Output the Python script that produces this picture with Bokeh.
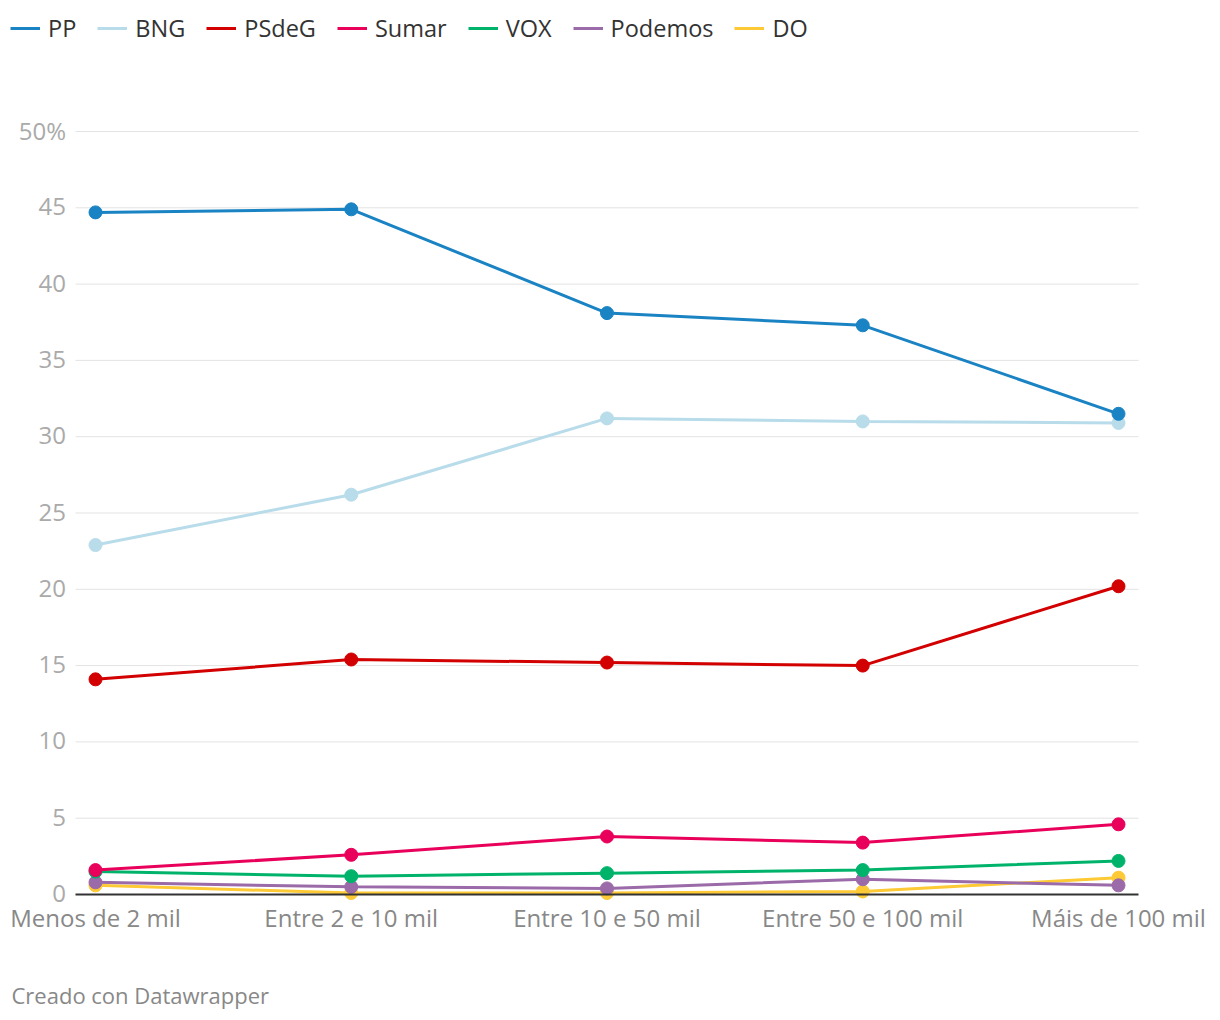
from bokeh.plotting import figure
from bokeh.models import Legend, LegendItem, Label
from bokeh.embed import file_html
from bokeh.resources import INLINE

categories = ["Menos de 2 mil", "Entre 2 e 10 mil", "Entre 10 e 50 mil", "Entre 50 e 100 mil", "Máis de 100 mil"]
parties = ["PP", "BNG", "PSdeG", "Sumar", "VOX", "Podemos", "DO"]
colors = ["#1a83c3", "#b8dcea", "#d20000", "#e8005a", "#00b36b", "#9b6aa8", "#fdc934"]

pp = [44.7, 44.9, 38.1, 37.3, 31.5]
bng = [22.9, 26.2, 31.2, 31.0, 30.9]
psdeg = [14.1, 15.4, 15.2, 15.0, 20.2]
sumar = [1.6, 2.6, 3.8, 3.4, 4.6]
vox = [1.5, 1.2, 1.4, 1.6, 2.2]
podemos = [0.8, 0.5, 0.4, 1.0, 0.6]
do_ = [0.6, 0.1, 0.1, 0.2, 1.1]
series = [pp, bng, psdeg, sumar, vox, podemos, do_]

y_ticks = [0, 5, 10, 15, 20, 25, 30, 35, 40, 45, 50]
y_tick_labels = ["0", "5", "10", "15", "20", "25", "30", "35", "40", "45", "50%"]

FONT = "Open Sans"
W, H = 1212, 1012

# pixel layout of the plotting area (canvas coordinates)
PX_X0, PX_STEP = 95.0, 255.75      # first category centre, category spacing
PX_Y0, PX_PER_UNIT = 894.0, 15.26  # y=0 position, pixels per percentage point
GRID_L, GRID_R = 75.0, 1138.0

def xd(px):
    return (px - PX_X0) / PX_STEP

def yd(py):
    return (PX_Y0 - py) / PX_PER_UNIT

xs = list(range(len(categories)))

p = figure(width=W, height=H, output_backend="svg", toolbar_location=None,
           x_range=(xd(0), xd(W)), y_range=(yd(H), yd(0)),
           min_border=0, min_border_left=0, min_border_right=0,
           min_border_top=0, min_border_bottom=0)
p.outline_line_color = None
p.background_fill_color = "white"
p.border_fill_color = "white"
p.xaxis.visible = False
p.yaxis.visible = False
p.xgrid.visible = False
p.ygrid.visible = False

# gridlines
grid_y = y_ticks[1:]
p.segment(x0=[xd(GRID_L)] * len(grid_y), x1=[xd(GRID_R)] * len(grid_y),
          y0=grid_y, y1=grid_y, line_color="#e3e3e3", line_width=1)

# y tick labels
p.text(x=[xd(65.5)] * len(y_ticks), y=y_ticks, text=y_tick_labels,
       text_font={"value": FONT}, text_font_size={"value": "24px"},
       text_color="#aaaaaa", text_align="right", text_baseline="alphabetic", y_offset=-1)

# series (last in legend drawn first)
items = []
for name, col, vals in reversed(list(zip(parties, colors, series))):
    r = p.line(xs, vals, line_color=col, line_width=3)
    p.scatter(xs, vals, size=13, fill_color=col, line_color=col)
    items.append(LegendItem(label=name, renderers=[r]))
items = list(reversed(items))

# baseline axis at 0
p.segment(x0=[xd(GRID_L)], x1=[xd(GRID_R)], y0=[0], y1=[0], line_color="#333333", line_width=2)

# x category labels
p.text(x=xs, y=[yd(917.0)] * len(xs), text=categories,
       text_font={"value": FONT}, text_font_size={"value": "24px"},
       text_color="#888888", text_align="center", text_baseline="alphabetic")

legend = Legend(items=items, orientation="horizontal", location=(10, H - 44),
                label_text_font=FONT, label_text_font_size="23.5px", label_text_color="#333333",
                glyph_width=30, glyph_height=20, label_standoff=8, spacing=21,
                padding=0, margin=0, border_line_alpha=0, background_fill_alpha=0)
p.add_layout(legend, "center")

p.add_layout(Label(x=11, y=H - 994, x_units="screen", y_units="screen",
                   text="Creado con Datawrapper", text_baseline="alphabetic",
                   text_font=FONT, text_font_size="22px", text_color="#888888"))

open("out.html", "w").write(file_html(p, INLINE))
